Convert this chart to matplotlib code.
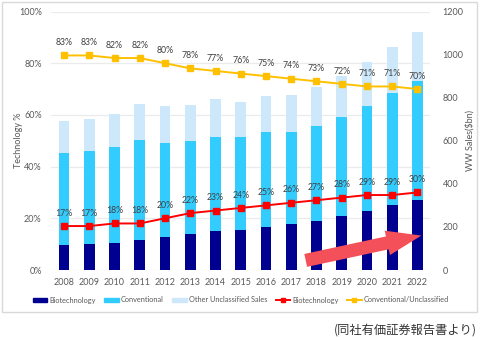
import matplotlib
matplotlib.use("Agg")
import matplotlib.pyplot as plt
from matplotlib.patches import FancyArrowPatch, Rectangle
from matplotlib.lines import Line2D
from matplotlib.patches import Patch
import numpy as np

years = [str(y) for y in range(2008, 2023)]
biotech_sales = [116, 119, 127, 139, 152, 166, 180, 186, 201, 213, 229, 252, 275, 302, 325]
conventional_sales = [426, 435, 443, 464, 439, 431, 439, 433, 438, 426, 439, 460, 486, 518, 554]
other_sales = [150, 147, 154, 169, 169, 170, 175, 162, 167, 175, 183, 189, 203, 215, 227]
biotech_pct = [17, 17, 18, 18, 20, 22, 23, 24, 25, 26, 27, 28, 29, 29, 30]
conv_pct = [83, 83, 82, 82, 80, 78, 77, 76, 75, 74, 73, 72, 71, 71, 70]
pct_ticks = [0, 20, 40, 60, 80, 100]
sales_ticks = [0, 200, 400, 600, 800, 1000, 1200]

C_BIO = "#000090"
C_CONV = "#33CCFF"
C_OTHER = "#CCE8FA"
C_RED = "#FF0000"
C_YEL = "#FFC000"
TICK_C = "#595959"

plt.rcParams["font.family"] = ["Lato", "DejaVu Sans"]

W, H = 480, 340
fig = plt.figure(figsize=(W / 100, H / 100), dpi=100)
fig.patch.set_facecolor("white")

# chart frame
fig.patches.append(Rectangle((2 / W, 1 - 312 / H), 475 / W, 310 / H,
                             transform=fig.transFigure, fill=False,
                             edgecolor="#D9D9D9", linewidth=1.0))

rect = [51.4 / W, 1 - 270 / H, (430.1 - 51.4) / W, (270 - 11.5) / H]
x = np.arange(len(years))

# percentage axis (left) with grid
ax = fig.add_axes(rect)
ax.set_xlim(-0.5, len(years) - 0.5)
ax.set_ylim(0, 100)
ax.set_yticks(pct_ticks)
ax.set_yticklabels([f"{t}%" for t in pct_ticks])
ax.grid(axis="y", color="#EBEBEB", linewidth=0.9)
ax.set_axisbelow(True)
ax.set_xticks(x)
ax.set_xticklabels(years)
ax.tick_params(length=0, labelsize=6.5, labelcolor=TICK_C)
ax.tick_params(axis="y", pad=7)
ax.tick_params(axis="x", pad=6)
for s in ax.spines.values():
    s.set_visible(False)
ax.set_ylabel("Technology %", fontsize=6.5, color=TICK_C, labelpad=-3)

# sales axis (right) with stacked bars
ax2 = ax.twinx()
ax2.set_zorder(ax.get_zorder() + 1)
ax2.patch.set_visible(False)
bw = 0.42
ax2.bar(x, biotech_sales, bw, color=C_BIO)
ax2.bar(x, conventional_sales, bw, bottom=biotech_sales, color=C_CONV)
bottom2 = np.array(biotech_sales) + np.array(conventional_sales)
ax2.bar(x, other_sales, bw, bottom=bottom2, color=C_OTHER)
ax2.set_ylim(0, 1200)
ax2.set_yticks(sales_ticks)
ax2.tick_params(length=0, labelsize=6.5, labelcolor=TICK_C, pad=9)
for s in ax2.spines.values():
    s.set_visible(False)
ax2.set_ylabel("WW Sales($bn)", fontsize=6.5, color=TICK_C, rotation=90, labelpad=1)

# share lines on top
ax3 = ax.twinx()
ax3.set_zorder(ax2.get_zorder() + 1)
ax3.patch.set_visible(False)
ax3.set_ylim(0, 100)
ax3.set_yticks([])
for s in ax3.spines.values():
    s.set_visible(False)
ax3.plot(x, biotech_pct, color=C_RED, lw=1.4, marker="s", ms=4.2)
ax3.plot(x, conv_pct, color=C_YEL, lw=1.4, marker="s", ms=4.8)
for xi, v in zip(x, biotech_pct):
    ax3.annotate(f"{v}%", (xi, v), xytext=(0, 6), textcoords="offset points",
                 ha="center", va="bottom", fontsize=6.3, color="#404040")
for xi, v in zip(x, conv_pct):
    ax3.annotate(f"{v}%", (xi, v), xytext=(0, 6), textcoords="offset points",
                 ha="center", va="bottom", fontsize=6.3, color="#404040")

# trend arrow
arrow = FancyArrowPatch((303 / W, 1 - 261 / H), (424 / W, 1 - 235 / H),
                        transform=fig.transFigure,
                        arrowstyle="simple,head_length=25,head_width=18,tail_width=9.5",
                        mutation_scale=1, color="#F4505A", lw=0, zorder=10)
fig.patches.append(arrow)

handles = [
    Patch(color=C_BIO, label="Biotechnology"),
    Patch(color=C_CONV, label="Conventional"),
    Patch(color=C_OTHER, label="Other Unclassified Sales"),
    Line2D([], [], color=C_RED, marker="s", ms=3.5, lw=1.4, label="Biotechnology"),
    Line2D([], [], color=C_YEL, marker="s", ms=3.5, lw=1.4, label="Conventional/Unclassified"),
]
leg = fig.legend(handles=handles, loc="center", bbox_to_anchor=(241 / W, 1 - 300 / H),
                 ncol=5, frameon=False, fontsize=5.3, handlelength=2.0,
                 handleheight=0.5, handletextpad=0.3, columnspacing=1.1)
for t in leg.get_texts():
    t.set_color(TICK_C)

fig.text(477 / W, 1 - 330 / H, "(同社有価証券報告書より)", ha="right", va="center",
         fontsize=8.8, color="#333333", family=["Noto Sans CJK JP", "DejaVu Sans"])

fig.savefig("out.png", dpi=100)
